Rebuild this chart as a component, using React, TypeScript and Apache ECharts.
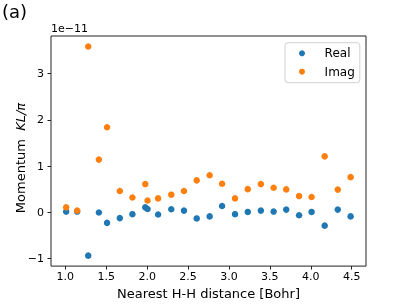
import React, { useEffect, useRef } from "react";
import * as echarts from "echarts";

const distances = [1.01, 1.145, 1.28, 1.41, 1.51, 1.666, 1.82, 1.977, 2.005, 2.134, 2.295, 2.45, 2.606, 2.764, 2.916, 3.074, 3.23, 3.39, 3.546, 3.7, 3.857, 4.01, 4.17, 4.33, 4.487];
const realValues = [0.014, 0.014, -0.94, -0.007, -0.23, -0.127, -0.042, 0.106, 0.07, -0.05, 0.064, 0.035, -0.134, -0.09, 0.134, -0.042, 0.007, 0.035, 0.014, 0.057, -0.064, 0.007, -0.29, 0.057, -0.09];
const imagValues = [0.106, 0.035, 3.59, 1.14, 1.84, 0.46, 0.32, 0.61, 0.255, 0.3, 0.38, 0.46, 0.69, 0.8, 0.616, 0.3, 0.5, 0.61, 0.53, 0.495, 0.35, 0.33, 1.21, 0.49, 0.76];
const xTicks = [1.0, 1.5, 2.0, 2.5, 3.0, 3.5, 4.0, 4.5];
const yTicks = [-1, 0, 1, 2, 3];
const seriesNames = ["Real", "Imag"];
const colors = ["#1f77b4", "#ff7f0e"];

const FONT = "DejaVu Sans";

export default function App() {
  const ref = useRef<HTMLDivElement>(null);
  useEffect(() => {
    if (!ref.current) return;
    const chart = echarts.init(ref.current, undefined, { renderer: "svg" });
    const fmtY = (v: number) => (v < 0 ? "\u2212" + Math.abs(v) : String(v));
    chart.setOption({
      animation: false,
      textStyle: { fontFamily: FONT },
      grid: {
        left: 51,
        right: 41,
        top: 36,
        bottom: 34,
        show: true,
        borderColor: "#222",
        borderWidth: 1,
        backgroundColor: "transparent",
      },
      xAxis: {
        type: "value",
        min: 0.825,
        max: 4.675,
        splitLine: { show: false },
        axisLine: { show: false, onZero: false },
        axisTick: {
          show: true,
          customValues: xTicks,
          length: 3.5,
          lineStyle: { color: "#222", width: 1 },
        },
        axisLabel: {
          customValues: xTicks,
          formatter: (v: number) => v.toFixed(1),
          color: "#000",
          fontSize: 11,
          fontFamily: FONT,
          margin: 5,
        },
        name: "Nearest H-H distance [Bohr]",
        nameLocation: "middle",
        nameGap: 17,
        nameTextStyle: { color: "#000", fontSize: 13, fontFamily: FONT },
      },
      yAxis: {
        type: "value",
        min: -1.1665,
        max: 3.8165,
        splitLine: { show: false },
        axisLine: { show: false, onZero: false },
        axisTick: {
          show: true,
          customValues: yTicks,
          length: 3.5,
          lineStyle: { color: "#222", width: 1 },
        },
        axisLabel: {
          customValues: yTicks,
          formatter: fmtY,
          color: "#000",
          fontSize: 11,
          fontFamily: FONT,
          margin: 7,
        },
      },
      legend: {
        data: seriesNames,
        orient: "vertical",
        left: 285,
        top: 42.7,
        icon: "circle",
        itemWidth: 6,
        itemHeight: 6,
        itemGap: 4.4,
        padding: [3.6, 5, 4, 14],
        borderColor: "#d0d0d0",
        borderWidth: 1,
        borderRadius: 3,
        backgroundColor: "rgba(255,255,255,0.8)",
        textStyle: {
          color: "#000",
          fontSize: 12,
          fontFamily: FONT,
          lineHeight: 14,
          padding: [0, 0, 0, 14.6],
        },
      },
      graphic: [
        {
          type: "text",
          left: 2,
          top: 2,
          style: { text: "(a)", fontSize: 18, fontFamily: FONT, fill: "#000" },
        },
        {
          type: "text",
          x: 51,
          y: 34,
          style: {
            text: "1e\u221211",
            fontSize: 11,
            fontFamily: FONT,
            fill: "#000",
            align: "left",
            verticalAlign: "bottom",
          },
        },
        {
          type: "text",
          x: 20,
          y: 158,
          rotation: Math.PI / 2,
          style: {
            text: "{a|Momentum}  {b|KL/\u03c0}",
            align: "center",
            verticalAlign: "middle",
            fill: "#000",
            fontSize: 13,
            fontFamily: FONT,
            rich: {
              a: { fontSize: 13, fontFamily: FONT, fill: "#000" },
              b: { fontSize: 13, fontFamily: FONT, fill: "#000", fontStyle: "italic" },
            },
          },
        },
      ],
      series: [
        {
          name: seriesNames[0],
          type: "scatter",
          symbol: "circle",
          symbolSize: 6.5,
          itemStyle: { color: colors[0], opacity: 1 },
          data: distances.map((d, i) => [d, realValues[i]]),
        },
        {
          name: seriesNames[1],
          type: "scatter",
          symbol: "circle",
          symbolSize: 6.5,
          itemStyle: { color: colors[1], opacity: 1 },
          data: distances.map((d, i) => [d, imagValues[i]]),
        },
      ],
    });
    return () => chart.dispose();
  }, []);
  return (
    <div
      ref={ref}
      style={{ position: "fixed", left: 0, top: 0, width: 407, height: 305 }}
    />
  );
}
